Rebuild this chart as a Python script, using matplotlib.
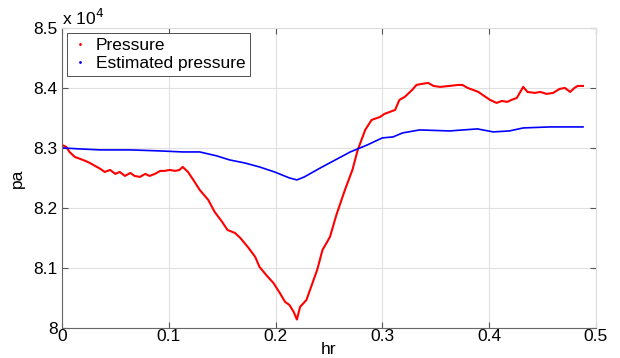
import numpy as np
import matplotlib.pyplot as plt
from matplotlib.lines import Line2D

plt.rcParams["font.family"] = ["Liberation Sans", "DejaVu Sans"]

# measured pressure (hr, pa)
t_meas = [0.000, 0.004, 0.007, 0.012, 0.017, 0.022, 0.026, 0.031, 0.036, 0.040,
          0.045, 0.050, 0.054, 0.059, 0.064, 0.068, 0.073, 0.078, 0.082, 0.087,
          0.092, 0.096, 0.101, 0.106, 0.110, 0.113, 0.118, 0.123, 0.129, 0.137,
          0.143, 0.150, 0.155, 0.162, 0.167, 0.174, 0.181, 0.185, 0.192, 0.198,
          0.204, 0.209, 0.213, 0.217, 0.220, 0.223, 0.229, 0.234, 0.239, 0.244,
          0.251, 0.257, 0.265, 0.272, 0.277, 0.284, 0.290, 0.298, 0.302, 0.307,
          0.312, 0.316, 0.321, 0.328, 0.332, 0.337, 0.343, 0.348, 0.354, 0.363,
          0.371, 0.375, 0.380, 0.385, 0.390, 0.394, 0.401, 0.407, 0.412, 0.417,
          0.421, 0.426, 0.432, 0.436, 0.443, 0.448, 0.454, 0.460, 0.466, 0.471,
          0.476, 0.480, 0.483, 0.488]
p_meas = [83050, 83017, 82933, 82850, 82817, 82783, 82750, 82700, 82650, 82600,
          82633, 82567, 82600, 82533, 82583, 82533, 82517, 82567, 82533, 82567,
          82617, 82617, 82633, 82617, 82633, 82683, 82600, 82467, 82300, 82133,
          81933, 81767, 81633, 81583, 81500, 81350, 81183, 81017, 80867, 80750,
          80583, 80433, 80383, 80267, 80140, 80350, 80467, 80717, 80967, 81300,
          81517, 81883, 82300, 82633, 82967, 83300, 83467, 83517, 83567, 83600,
          83633, 83800, 83850, 83967, 84050, 84067, 84083, 84033, 84017, 84033,
          84050, 84050, 84000, 83967, 83933, 83883, 83800, 83750, 83783, 83767,
          83800, 83833, 84017, 83933, 83917, 83933, 83900, 83917, 83983, 84000,
          83933, 84000, 84033, 84033]

# estimated pressure
t_est = [0.000, 0.017, 0.036, 0.064, 0.092, 0.113, 0.129, 0.145, 0.157, 0.171,
         0.185, 0.199, 0.213, 0.220, 0.227, 0.242, 0.256, 0.270, 0.286, 0.300,
         0.310, 0.319, 0.335, 0.363, 0.389, 0.404, 0.419, 0.432, 0.457, 0.488]
p_est = [83000, 82983, 82967, 82967, 82950, 82933, 82933, 82867, 82800, 82750,
         82683, 82600, 82500, 82467, 82517, 82667, 82800, 82933, 83050, 83167,
         83183, 83250, 83300, 83283, 83317, 83267, 83283, 83333, 83350, 83350]

yticks = [80000, 81000, 82000, 83000, 84000, 85000]
ylabels = ["8", "8.1", "8.2", "8.3", "8.4", "8.5"]
xticks = [0, 0.1, 0.2, 0.3, 0.4, 0.5]
xlabels = ["0", "0.1", "0.2", "0.3", "0.4", "0.5"]

fig = plt.figure(figsize=(6.2, 3.58), dpi=100)
ax = fig.add_axes([0.1, 0.084, 0.861, 0.838])

ax.plot(t_meas, p_meas, color="red", lw=1.5)
ax.plot(t_est, p_est, color="blue", lw=1.2)

ax.set_xlim(0, 0.5)
ax.set_ylim(80000, 85000)
ax.set_xticks(xticks)
ax.set_xticklabels(xlabels)
ax.set_yticks(yticks)
ax.set_yticklabels(ylabels)
ax.tick_params(direction="in", length=4, labelsize=12.5, top=True, right=True,
               color="#555555")
ax.tick_params(axis="x", pad=1)
ax.tick_params(axis="y", pad=3)
ax.grid(True, color="#e0e0e0", lw=0.8)
ax.set_axisbelow(True)
for s in ["left", "bottom"]:
    ax.spines[s].set_color("#666666")
for s in ["top", "right"]:
    ax.spines[s].set_color("#dddddd")

ax.set_xlabel("hr", fontsize=12.5, labelpad=-2)
ax.set_ylabel("pa", fontsize=12.5, labelpad=6)
ax.text(0.0, 1.0, "x 10$^{4}$", transform=ax.transAxes, fontsize=12.5,
        ha="left", va="bottom")

handles = [Line2D([], [], color="red", marker=".", ms=2, ls="none"),
           Line2D([], [], color="blue", marker=".", ms=2, ls="none")]
leg = ax.legend(handles, ["Pressure", "Estimated pressure"], loc="upper left",
                fontsize=12.5, fancybox=False, framealpha=1, edgecolor="#333333",
                borderaxespad=0.3, handlelength=1.0, borderpad=0.25,
                labelspacing=0.2, handletextpad=0.4)
leg.get_frame().set_linewidth(0.6)

fig.savefig("out.png", dpi=100)
